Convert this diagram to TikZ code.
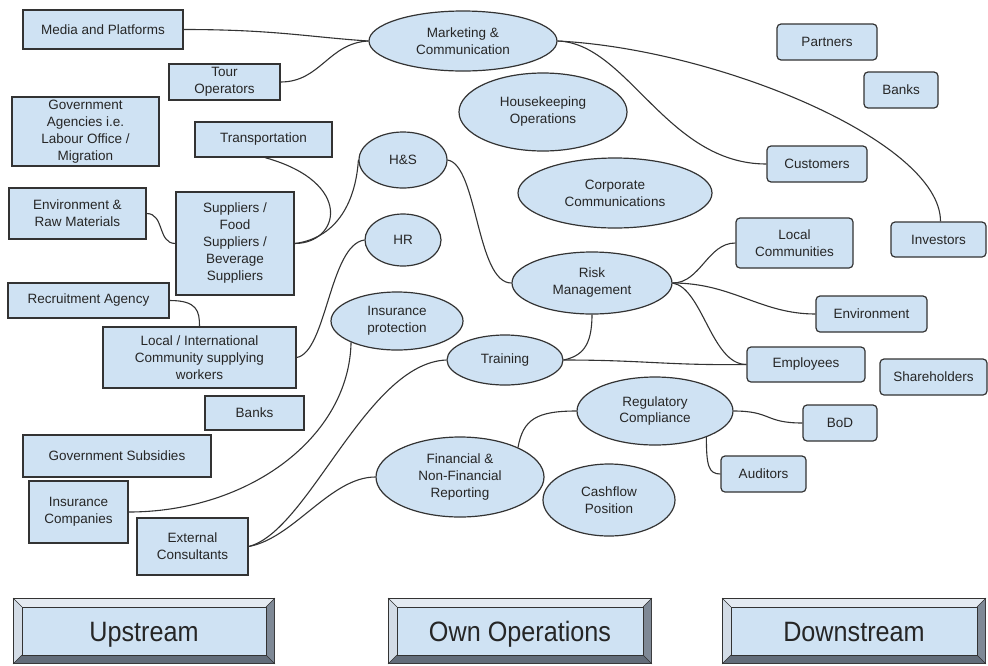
\documentclass[tikz,border=0pt]{standalone}
\usepackage{fontspec}
\setmainfont{Liberation Sans}
\usetikzlibrary{shapes.geometric}
\definecolor{nodefill}{HTML}{CFE2F3}
\definecolor{edgec}{HTML}{333333}
\definecolor{txtc}{HTML}{262626}
\definecolor{bevtop}{HTML}{E4EAF1}
\definecolor{bevleft}{HTML}{D3DCE6}
\definecolor{bevright}{HTML}{7F8996}
\definecolor{bevbot}{HTML}{636D7A}
\tikzset{
  base/.style={draw=edgec, line width=1.2pt, fill=nodefill, inner sep=0pt, align=center,
    text=txtc, font=\fontsize{13.5}{17}\selectfont},
  ubox/.style={base, rectangle},
  dbox/.style={base, rectangle, rounded corners=4pt},
  oval/.style={base, ellipse},
  conn/.style={draw=edgec, line width=1.1pt},
  bigtxt/.style={text=txtc, inner sep=0pt, anchor=base}
}
\newcommand\bevbox[4]{% x1 x2 y1 y2
  \fill[edgec] (#1,#3) rectangle (#2,#4);
  \fill[bevtop] (#1+1,#3+1) -- (#2-1,#3+1) -- (#2-9,#3+9) -- (#1+9,#3+9) -- cycle;
  \fill[bevleft] (#1+1,#3+1) -- (#1+9,#3+9) -- (#1+9,#4-9) -- (#1+1,#4-1) -- cycle;
  \fill[bevright] (#2-1,#3+1) -- (#2-1,#4-1) -- (#2-9,#4-9) -- (#2-9,#3+9) -- cycle;
  \fill[bevbot] (#1+1,#4-1) -- (#2-1,#4-1) -- (#2-9,#4-9) -- (#1+9,#4-9) -- cycle;
  \draw[edgec, line width=0.8pt, fill=nodefill] (#1+9,#3+9) rectangle (#2-9,#4-9);
  \draw[edgec, line width=0.5pt] (#1,#3) -- (#1+9,#3+9) (#2,#3) -- (#2-9,#3+9)
     (#1,#4) -- (#1+9,#4-9) (#2,#4) -- (#2-9,#4-9);
}
\begin{document}
\begin{tikzpicture}[x=1pt,y=-1pt]
\useasboundingbox[fill=white] (0,0) rectangle (988,665);

% Upstream boxes
\node[ubox, minimum width=160pt, minimum height=39pt] (media) at (103,29.5) {Media and Platforms};
\node[ubox, minimum width=111pt, minimum height=36pt] (tour) at (224.5,82) {Tour\\Operators};
\node[ubox, minimum width=147pt, minimum height=69pt] (gov) at (85.5,131.5) {Government\\Agencies i.e.\\Labour Office /\\Migration};
\node[ubox, minimum width=137pt, minimum height=35pt] (transp) at (263.5,139.5) {Transportation};
\node[ubox, minimum width=137pt, minimum height=51pt] (envraw) at (77.5,213.5) {Environment \&\\Raw Materials};
\node[ubox, minimum width=118pt, minimum height=103pt] (supp) at (235,243.5) {Suppliers /\\Food\\Suppliers /\\Beverage\\Suppliers};
\node[ubox, minimum width=161pt, minimum height=35pt] (recruit) at (88.5,300.5) {Recruitment Agency};
\node[ubox, minimum width=193pt, minimum height=61pt] (localint) at (199.5,357.5) {Local / International\\Community supplying\\workers};
\node[ubox, minimum width=99pt, minimum height=34pt] (banksl) at (254.5,413) {Banks};
\node[ubox, minimum width=188pt, minimum height=42pt] (govsub) at (117,456) {Government Subsidies};
\node[ubox, minimum width=99pt, minimum height=62pt] (insco) at (78.5,512) {Insurance\\Companies};
\node[ubox, minimum width=111pt, minimum height=57pt] (extc) at (192.5,546.5) {External\\Consultants};

% Own operations ellipses
\node[oval, minimum width=188pt, minimum height=60pt] (mkt) at (463,41) {Marketing \&\\Communication};
\node[oval, minimum width=168pt, minimum height=78pt] (house) at (543,112) {Housekeeping\\Operations};
\node[oval, minimum width=88pt, minimum height=56pt] (hs) at (403,160) {H\&S};
\node[oval, minimum width=194pt, minimum height=70pt] (corp) at (615,193) {Corporate\\Communications};
\node[oval, minimum width=76pt, minimum height=52pt] (hr) at (403,240) {HR};
\node[oval, minimum width=132pt, minimum height=58pt] (insp) at (397,321) {Insurance\\protection};
\node[oval, minimum width=160pt, minimum height=62pt] (risk) at (592,283) {Risk\\Management};
\node[oval, minimum width=116pt, minimum height=50pt] (train) at (505,360) {Training};
\node[oval, minimum width=156pt, minimum height=68pt] (reg) at (655,411) {Regulatory\\Compliance};
\node[oval, minimum width=168pt, minimum height=80pt] (fin) at (460,477) {Financial \&\\Non-Financial\\Reporting};
\node[oval, minimum width=132pt, minimum height=72pt] (cash) at (609,500) {Cashflow\\Position};

% Downstream boxes
\node[dbox, minimum width=100pt, minimum height=36pt] (partners) at (827,42) {Partners};
\node[dbox, minimum width=74pt, minimum height=36pt] (banksr) at (901,90) {Banks};
\node[dbox, minimum width=100pt, minimum height=36pt] (cust) at (817,164) {Customers};
\node[dbox, minimum width=117pt, minimum height=50pt] (loccom) at (794.5,243) {Local\\Communities};
\node[dbox, minimum width=95pt, minimum height=35pt] (inv) at (938.5,239.5) {Investors};
\node[dbox, minimum width=111pt, minimum height=36pt] (envr) at (871.5,314) {Environment};
\node[dbox, minimum width=118pt, minimum height=35pt] (emp) at (806,364.5) {Employees};
\node[dbox, minimum width=107pt, minimum height=36pt] (share) at (933.5,377) {Shareholders};
\node[dbox, minimum width=74pt, minimum height=36pt] (bod) at (840,423) {BoD};
\node[dbox, minimum width=85pt, minimum height=36pt] (aud) at (763.5,474) {Auditors};

% Connectors
\draw[conn] (media.east) .. controls +(90,0) and +(-60,-4) .. (mkt.west);
\draw[conn] (tour.east) .. controls +(40,0) and +(-40,2) .. (mkt.west);
\draw[conn] (mkt.east) .. controls +(70,2) and +(-100,0) .. (cust.west);
\draw[conn] (mkt.east) .. controls +(160,8) and +(0,-80) .. ([xshift=2pt]inv.north);
\draw[conn] ([xshift=1.5pt]transp.south) .. controls +(90,25) and +(45,0) .. (supp.east);
\draw[conn] (supp.east) .. controls +(40,-5) and +(-3,45) .. (hs.west);
\draw[conn] (envraw.east) .. controls +(18,0) and +(-18,0) .. (supp.west);
\draw[conn] (hs.east) .. controls +(30,5) and +(-35,0) .. (risk.west);
\draw[conn] (hr.west) .. controls +(-35,5) and +(30,-5) .. (localint.east);
\draw[conn] (recruit.east) .. controls +(28,0) and +(0,-15) .. (localint.north);
\draw[conn] (insp.205) .. controls +(-2,95) and +(120,0) .. (insco.east);
\draw[conn] (train.west) .. controls +(-80,3) and +(60,-15) .. (extc.east);
\draw[conn] (fin.west) .. controls +(-45,0) and +(45,-8) .. (extc.east);
\draw[conn] (risk.south) .. controls +(0,32) and +(18,-4) .. (train.east);
\draw[conn] (train.east) .. controls +(80,0) and +(-80,1) .. (emp.west);
\draw[conn] (risk.east) .. controls +(28,0) and +(-28,0) .. (loccom.west);
\draw[conn] (risk.east) .. controls +(60,0) and +(-55,0) .. (envr.west);
\draw[conn] (risk.east) .. controls +(30,5) and +(-35,0) .. (emp.west);
\draw[conn] (fin.27) .. controls +(5,-28) and +(-40,0) .. (reg.west);
\draw[conn] (reg.east) .. controls +(38,0) and +(-38,0) .. (bod.west);
\draw[conn] (reg.333) .. controls +(0,28) and +(-12,0) .. (aud.west);

% Bottom beveled labels
\bevbox{13}{275}{598}{664}
\bevbox{388}{652}{598}{664}
\bevbox{722}{986}{598}{664}
\node[bigtxt] (upstream) at (144,641) {\scalebox{0.9}[1]{\fontsize{28}{30}\selectfont Upstream}};
\node[bigtxt] (ownops) at (520,641) {\scalebox{0.9}[1]{\fontsize{28}{30}\selectfont Own Operations}};
\node[bigtxt] (downstream) at (854,641) {\scalebox{0.9}[1]{\fontsize{28}{30}\selectfont Downstream}};
\end{tikzpicture}
\end{document}
